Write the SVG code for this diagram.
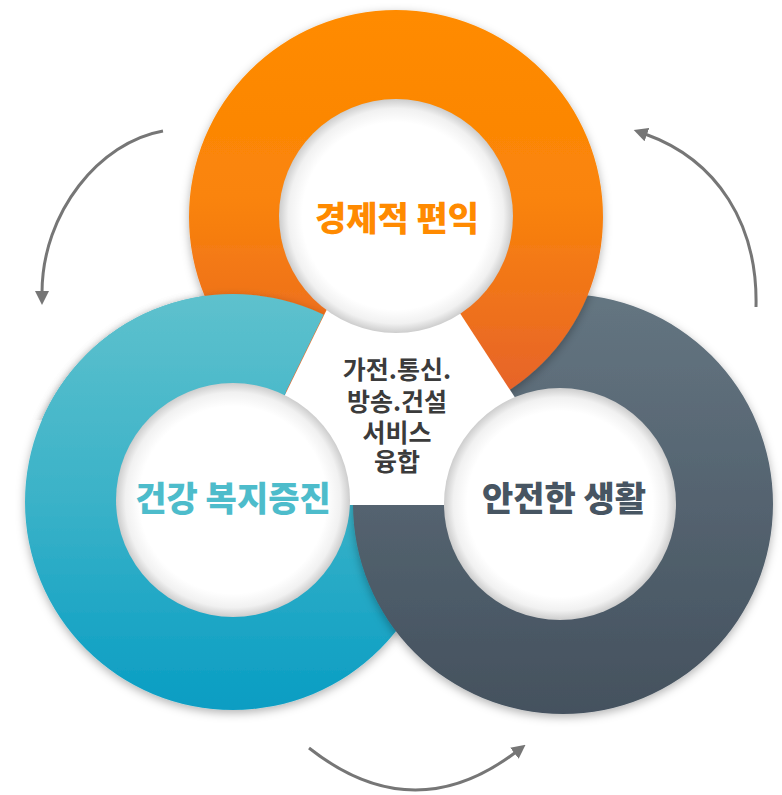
<svg xmlns="http://www.w3.org/2000/svg" xmlns:xlink="http://www.w3.org/1999/xlink" width="782" height="795" viewBox="0 0 782 795">
<defs>
<style>
.lbl{font-family:"Noto Sans CJK KR","Noto Sans",sans-serif;font-weight:900;text-anchor:middle;}
.big{font-size:34px;}
.mid{font-size:25px;font-weight:700;fill:#3b3b3b;}
.arr{fill:none;stroke:#767676;stroke-width:3;stroke-linecap:butt;}
.hole{fill:url(#holeG);}
</style>
<linearGradient id="orG" x1="0" y1="0" x2="0" y2="1">
<stop offset="0" stop-color="#FF8B00"/>
<stop offset="0.45" stop-color="#FA8409"/>
<stop offset="1" stop-color="#E35E30"/>
</linearGradient>
<linearGradient id="teG" x1="0" y1="0" x2="0" y2="1">
<stop offset="0" stop-color="#5EC1CD"/>
<stop offset="0.5" stop-color="#3AB2C8"/>
<stop offset="1" stop-color="#089DC3"/>
</linearGradient>
<linearGradient id="dkG" x1="0" y1="0" x2="0" y2="1">
<stop offset="0" stop-color="#647581"/>
<stop offset="1" stop-color="#44515E"/>
</linearGradient>
<radialGradient id="holeG" cx="0.5" cy="0.5" r="0.5">
<stop offset="0" stop-color="#ffffff"/>
<stop offset="0.8" stop-color="#ffffff"/>
<stop offset="0.92" stop-color="#f1f1f1"/>
<stop offset="1" stop-color="#cdcdcd"/>
</radialGradient>
<filter id="sh" x="-20%" y="-20%" width="140%" height="140%">
<feDropShadow dx="0" dy="3" stdDeviation="5" flood-color="#000" flood-opacity="0.3"/>
</filter>
<clipPath id="tealClip">
<polygon points="0,255 353,255 272,420 0,420"/>
</clipPath>
<marker id="ah" viewBox="0 0 14 14" refX="2" refY="7" markerWidth="14" markerHeight="14" markerUnits="userSpaceOnUse" orient="auto">
<path d="M0,0 L14,7 L0,14 Z" fill="#767676"/>
</marker>
<path id="tealRing" fill-rule="evenodd" d="M25,502 a208,208 0 1,0 416,0 a208,208 0 1,0 -416,0 Z M123,502 a110,110 0 1,0 220,0 a110,110 0 1,0 -220,0 Z"/>
</defs>
<rect width="782" height="795" fill="#ffffff"/>
<g id="rings">
<use xlink:href="#tealRing" fill="url(#teG)" filter="url(#sh)"/>
<path id="darkRing" fill="url(#dkG)" filter="url(#sh)" fill-rule="evenodd" d="M353,504 a210,210 0 1,0 420,0 a210,210 0 1,0 -420,0 Z M451,504 a110,110 0 1,0 220,0 a110,110 0 1,0 -220,0 Z"/>
<path id="orangeRing" fill="url(#orG)" filter="url(#sh)" fill-rule="evenodd" d="M189,217 a207,207 0 1,0 414,0 a207,207 0 1,0 -414,0 Z M286,217 a110,110 0 1,0 220,0 a110,110 0 1,0 -220,0 Z"/>
<g clip-path="url(#tealClip)"><use xlink:href="#tealRing" fill="url(#teG)" filter="url(#sh)"/></g>
<polygon id="centerGap" points="383,195 231,505 585,505" fill="#ffffff"/>
</g>
<g id="node-economic">
<circle class="hole" cx="396" cy="216" r="117"/>
<text class="lbl big" x="397" y="231" fill="#FF8A00">경제적 편익</text>
</g>
<g id="node-health">
<circle class="hole" cx="233" cy="500" r="117"/>
<text class="lbl big" x="233" y="511" fill="#4DBCCB">건강 복지증진</text>
</g>
<g id="node-safety">
<circle class="hole" cx="560" cy="504" r="116"/>
<text class="lbl big" x="564" y="511" fill="#475562">안전한 생활</text>
</g>
<g id="node-center">
<text class="lbl mid" x="397" y="379"><tspan x="397" y="379">가전.통신.</tspan><tspan x="397" y="411">방송.건설</tspan><tspan x="397" y="442">서비스</tspan><tspan x="397" y="471">융합</tspan></text>
</g>
<g id="connectors">
<path class="arr" d="M163,131 C100,142 42,212 42,293" marker-end="url(#ah)"/>
<path class="arr" d="M756,307 C758,225 718,160 645,134" marker-end="url(#ah)"/>
<path class="arr" d="M309,748 Q413,830 516,752" marker-end="url(#ah)"/>
</g>
</svg>
